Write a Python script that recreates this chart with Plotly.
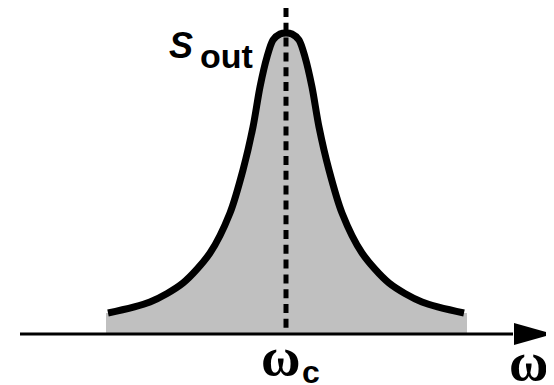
import plotly.graph_objects as go

# spectrum outline (x: pixel column, y: height above the axis)
freq = [108, 150, 183, 210, 230, 243, 253, 260, 267, 273, 280, 286,
        292, 299, 305, 312, 319, 329, 342, 362, 389, 422, 464]
s_out = [21, 32, 51, 81, 121, 164, 207, 247, 277, 294, 300, 301,
         300, 294, 277, 247, 207, 164, 121, 81, 51, 32, 21]

# shaded band edges and centre frequency
band_lo, band_hi = 106, 467
omega_c = 286
dash_top = 326
axis_start, axis_end = 20, 553

fig = go.Figure()

# grey area under the curve
fig.add_trace(go.Scatter(
    x=[band_lo] + freq + [band_hi],
    y=[s_out[0]] + s_out + [s_out[-1]],
    mode="lines", line=dict(width=0, shape="spline"),
    fill="tozeroy", fillcolor="#c0c0c0", hoverinfo="skip"
))

# centre frequency marker (drawn top-down so the dashes start at the top)
fig.add_trace(go.Scatter(
    x=[omega_c, omega_c], y=[dash_top, 0],
    mode="lines", line=dict(color="black", width=5, dash="9px,5.8px"),
    hoverinfo="skip"
))

# outline
fig.add_trace(go.Scatter(
    x=freq, y=s_out, mode="lines",
    line=dict(color="black", width=7, shape="spline", smoothing=0.8),
    hoverinfo="skip"
))

# frequency axis with arrow head
fig.add_shape(type="line", x0=axis_start, x1=axis_end - 40, y0=0, y1=0,
              line=dict(color="black", width=3))
fig.add_shape(type="path",
              path=f"M {axis_end - 39},11 L {axis_end},0 L {axis_end - 39},-11 Z",
              fillcolor="black", line=dict(width=0))

sans = "Liberation Sans"
serif = "Liberation Serif"
fig.add_annotation(x=181, y=289, text="<b><i>S</i></b>", showarrow=False,
                   font=dict(family=sans, size=36, color="black"))
fig.add_annotation(x=226, y=278, text="<b>out</b>", showarrow=False,
                   font=dict(family=sans, size=34, color="black"))
fig.add_annotation(x=280, y=-23, text="<b>ω</b>", showarrow=False,
                   font=dict(family=serif, size=54, color="black"))
fig.add_annotation(x=311, y=-38, text="<b>c</b>", showarrow=False,
                   font=dict(family=sans, size=32, color="black"))
fig.add_annotation(x=528, y=-28, text="<b>ω</b>", showarrow=False,
                   font=dict(family=serif, size=54, color="black"))

# the page body adds an 8px margin, so the figure is 8px smaller and the
# ranges start 8px in
fig.update_layout(
    width=546, height=377,
    margin=dict(l=0, r=0, t=0, b=0),
    paper_bgcolor="white", plot_bgcolor="white",
    showlegend=False,
    xaxis=dict(range=[8, 554], visible=False, fixedrange=True),
    yaxis=dict(range=[-51, 326], visible=False, fixedrange=True),
)

fig.write_html("out.html")
